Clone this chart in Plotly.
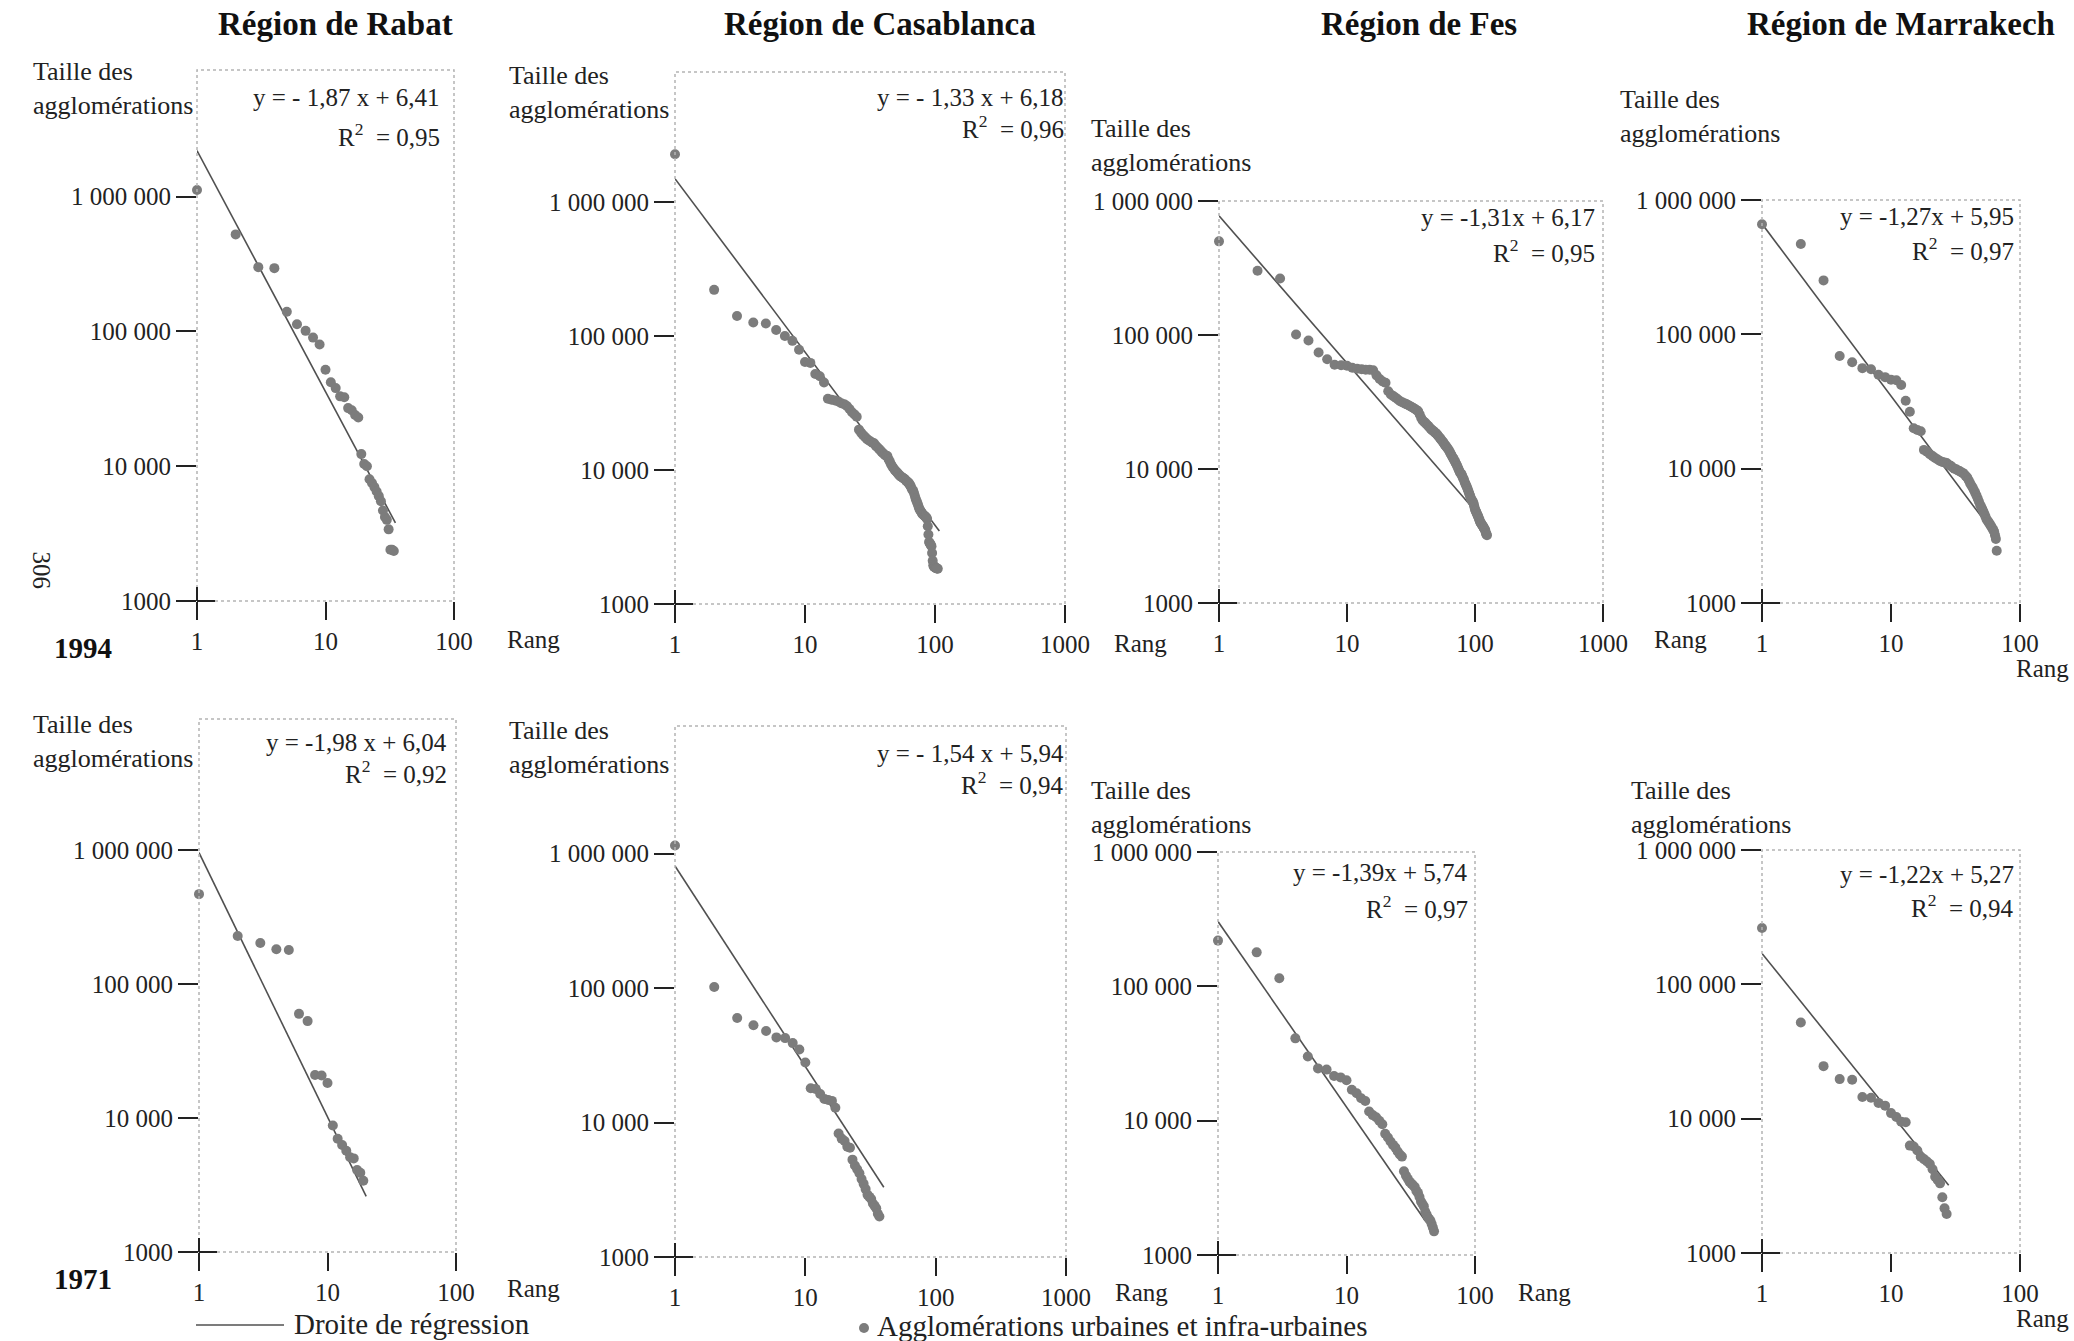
import plotly.graph_objects as go

W, H = 2074, 1341
FONT = "Liberation Serif"
INK = "#222222"

# ---------------- data (population of agglomerations, ordered by rank) ----------------
regions = ["Région de Rabat", "Région de Casablanca", "Région de Fes", "Région de Marrakech"]
years = ["1994", "1971"]

rabat_1994 = [1120000, 525000, 300000, 295000, 140000, 113000, 101000, 90000, 80000, 52000,
              42000, 38000, 33000, 32500, 27000, 26000, 24000, 23000, 12300, 10400,
              10000, 8000, 7500, 7000, 6500, 6000, 5500, 4700, 4200, 4000,
              3400, 2400, 2400, 2350]
casablanca_1994 = [2270000, 221000, 141000, 126000, 124000, 111000, 100000, 92000, 79000, 64000,
                   63000, 52000, 50000, 45000, 34000, 33500, 33000, 32500, 31500, 31000,
                   30000, 28500, 27000, 26000, 25000, 20000, 19000, 18200, 17600, 17000,
                   16600, 16300, 16000, 15800, 15200, 14800, 14400, 14000, 13600, 13300,
                   13000, 12800, 12700, 12000, 11500, 11000, 10600, 10300, 10000, 9800,
                   9600, 9400, 9200, 9000, 8900, 8800, 8700, 8600, 8500, 8300,
                   8200, 8100, 8000, 7800, 7600, 7300, 7100, 7000, 6700, 6400,
                   6100, 5900, 5700, 5500, 5300, 5100, 5000, 4900, 4800, 4700,
                   4650, 4600, 4550, 4500, 4450, 4400, 4300, 3800, 3300, 2900,
                   2850, 2800, 2750, 2700, 2400, 2100, 1950, 1900, 1900, 1880,
                   1860, 1850, 1850, 1840, 1830]
fes_1994 = [500000, 302000, 264000, 101000, 91000, 74000, 66000, 60000, 59500, 59000,
            57000, 56000, 55500, 55000, 55000, 54500, 50000, 47000, 45000, 44000,
            38000, 36000, 35000, 34000, 33000, 32000, 31500, 31000, 30500, 30000,
            29500, 29000, 28500, 28000, 27500, 27000, 25500, 24000, 23000, 22500,
            22000, 21500, 21000, 20500, 20000, 19600, 19300, 19000, 18600, 18300,
            17900, 17500, 17100, 16700, 16300, 16000, 15600, 15200, 14900, 14600,
            14300, 14000, 13600, 13200, 12900, 12500, 12200, 11900, 11600, 11300,
            11000, 10700, 10400, 10100, 9800, 9500, 9300, 9200, 9000, 8700,
            8500, 8300, 8000, 7800, 7600, 7400, 7200, 7000, 6800, 6600,
            6400, 6200, 6000, 5900, 5800, 5700, 5600, 5400, 5200, 5000,
            4900, 4800, 4700, 4600, 4500, 4400, 4300, 4200, 4100, 4000,
            3950, 3900, 3850, 3800, 3750, 3700, 3650, 3600, 3550, 3500,
            3400, 3300, 3250, 3200]
marrakech_1994 = [660000, 471000, 252000, 69000, 62000, 56000, 55000, 50000, 48000, 46000,
                  45500, 42000, 32000, 26500, 20000, 19400, 19000, 13800, 13400, 12800,
                  12400, 12000, 11700, 11400, 11200, 11100, 11000, 10700, 10500, 10200,
                  10000, 9900, 9700, 9600, 9400, 9300, 9100, 8800, 8600, 8200,
                  7800, 7500, 7200, 6900, 6600, 6300, 6000, 5700, 5400, 5200,
                  5000, 4800, 4600, 4400, 4200, 4100, 4000, 3900, 3800, 3700,
                  3600, 3500, 3400, 3200, 3000, 2450]
rabat_1971 = [470000, 229000, 203000, 182000, 180000, 60000, 53000, 21000, 20800, 18300,
              8800, 7000, 6300, 5700, 5100, 5000, 4100, 3900, 3400]
casablanca_1971 = [1150000, 102000, 60000, 53000, 48000, 43000, 42500, 39000, 35000, 28000,
                   18000, 17800, 16300, 15000, 14700, 14500, 12900, 8300, 7600, 7300,
                   6600, 6500, 5300, 4800, 4500, 4200, 3800, 3500, 3200, 2900,
                   2800, 2700, 2500, 2400, 2300, 2100, 2000]
fes_1971 = [219000, 179000, 115000, 41000, 30000, 24500, 24000, 21500, 21000, 20000,
            17000, 16000, 14700, 14000, 11700, 11000, 10600, 10000, 9400, 8000,
            7500, 7000, 6600, 6300, 5900, 5600, 5400, 4200, 3900, 3700,
            3500, 3400, 3300, 3200, 3000, 2900, 2700, 2500, 2400, 2300,
            2100, 2000, 1900, 1850, 1800, 1700, 1600, 1500]
marrakech_1971 = [263000, 52000, 24600, 19700, 19500, 14500, 14300, 13100, 12500, 11000,
                  10300, 9500, 9400, 6300, 6200, 5800, 5200, 5000, 4800, 4600,
                  4200, 3700, 3500, 3300, 2600, 2150, 1950]

# regression lines as drawn: (rank at start, rank at end), (size at start, size at end)
reg_rank = [[1, 35], [1, 108], [1, 93], [1, 54], [1, 20], [1, 40], [1, 41], [1, 28]]
reg_size = [[2200000, 3800], [1490000, 3500], [776000, 5300], [665000, 4000],
            [960000, 2600], [810000, 3300], [304000, 1800], [170000, 3200]]
equations = ["y = - 1,87 x + 6,41", "y = - 1,33 x + 6,18", "y = -1,31x + 6,17", "y = -1,27x + 5,95",
             "y = -1,98 x + 6,04", "y = - 1,54 x + 5,94", "y = -1,39x + 5,74", "y = -1,22x + 5,27"]
r2_values = ["0,95", "0,96", "0,95", "0,97", "0,92", "0,94", "0,97", "0,94"]

series = [rabat_1994, casablanca_1994, fes_1994, marrakech_1994,
          rabat_1971, casablanca_1971, fes_1971, marrakech_1971]

y_tickvals = [1000, 10000, 100000, 1000000]
y_ticktext = ["1000", "10 000", "100 000", "1 000 000"]
x_ticks_2 = [1, 10, 100]
x_ticks_3 = [1, 10, 100, 1000]

# ---------------- layout geometry (pixels) ----------------
geom = [
    dict(box=(197, 454, 70, 601), xdec=2, ytop=6.94),
    dict(box=(675, 1065, 72, 604), xdec=3, ytop=6.97),
    dict(box=(1219, 1603, 201, 603), xdec=3, ytop=6.0),
    dict(box=(1762, 2020, 200, 603), xdec=2, ytop=6.0),
    dict(box=(199, 456, 719, 1252), xdec=2, ytop=6.98),
    dict(box=(675, 1066, 726, 1257), xdec=3, ytop=6.95),
    dict(box=(1218, 1475, 852, 1255), xdec=2, ytop=6.0),
    dict(box=(1762, 2020, 850, 1253), xdec=2, ytop=6.0),
]
ylab_pos = [(31, 55), (507, 59), (1089, 112), (1618, 83),
            (31, 708), (507, 714), (1089, 774), (1629, 774)]
eq_pos = [(442, 97, 135), (1066, 97, 127), (1597, 218, 251), (2016, 216, 249),
          (449, 742, 772), (1066, 753, 783), (1470, 873, 907), (2016, 874, 906)]
rang_pos = [(505, 640), (1112, 643), (1652, 640), (2042, 668),
            (505, 1288), (1113, 1292), (1516, 1292), (2042, 1318)]
title_pos = [335, 880, 1419, 1901]


def px(x):
    return x / W


def py(y):
    return 1 - y / H


fig = go.Figure()
shapes = []
annotations = []

for i, (vals, g) in enumerate(zip(series, geom)):
    n = i + 1
    xa = "x" if n == 1 else f"x{n}"
    ya = "y" if n == 1 else f"y{n}"
    ranks = list(range(1, len(vals) + 1))
    fig.add_trace(go.Scatter(
        x=reg_rank[i], y=reg_size[i], mode="lines", xaxis=xa, yaxis=ya,
        line=dict(color="#505050", width=1.6), showlegend=False, hoverinfo="skip"))
    fig.add_trace(go.Scatter(
        x=ranks, y=vals, mode="markers", xaxis=xa, yaxis=ya, cliponaxis=False,
        marker=dict(color="#7c7c7c", size=10, line=dict(width=0)), showlegend=False))

    l, r, t, b = g["box"]
    xt = x_ticks_3 if g["xdec"] == 3 else x_ticks_2
    axis_font = dict(family=FONT, size=25, color=INK)
    fig.layout[f"xaxis{'' if n == 1 else n}"] = dict(
        type="log", range=[0, g["xdec"]], domain=[px(l), px(r)], anchor=ya,
        tickvals=xt, ticktext=[str(v) for v in xt], ticks="outside", ticklen=18,
        tickwidth=2, tickcolor=INK, showgrid=False, zeroline=False, showline=False,
        tickfont=axis_font, fixedrange=True, automargin=False)
    fig.layout[f"yaxis{'' if n == 1 else n}"] = dict(
        type="log", range=[3, g["ytop"]], domain=[py(b), py(t)], anchor=xa,
        tickvals=y_tickvals, ticktext=y_ticktext, ticks="outside", ticklen=20,
        tickwidth=2, tickcolor=INK, showgrid=False, zeroline=False, showline=False,
        tickfont=axis_font, fixedrange=True, automargin=False)

    shapes.append(dict(type="rect", xref=f"{xa} domain", yref=f"{ya} domain",
                       x0=0, x1=1, y0=0, y1=1,
                       line=dict(color="#b4b4b4", width=1.5, dash="dot")))
    shapes.append(dict(type="line", xref=f"{xa} domain", yref=f"{ya} domain",
                       xsizemode="pixel", xanchor=0, x0=0, x1=18, y0=0, y1=0,
                       line=dict(color=INK, width=2)))
    shapes.append(dict(type="line", xref=f"{xa} domain", yref=f"{ya} domain",
                       ysizemode="pixel", yanchor=0, y0=0, y1=14, x0=0, x1=0,
                       line=dict(color=INK, width=2)))

    lx, ly = ylab_pos[i]
    annotations.append(dict(text="Taille des<br>agglomérations", x=px(lx), y=py(ly),
                            xref="paper", yref="paper", xanchor="left", yanchor="top",
                            align="left", showarrow=False,
                            font=dict(family=FONT, size=26, color=INK)))
    rx, ry = rang_pos[i]
    annotations.append(dict(text="Rang", x=px(rx), y=py(ry), xref="paper", yref="paper",
                            xanchor="center" if i in (3, 7) else "left", yanchor="middle",
                            showarrow=False, font=dict(family=FONT, size=25, color=INK)))
    ex, ey1, ey2 = eq_pos[i]
    annotations.append(dict(text=equations[i], x=px(ex), y=py(ey1), xref="paper", yref="paper",
                            xanchor="right", yanchor="middle", showarrow=False,
                            font=dict(family=FONT, size=25, color=INK)))
    annotations.append(dict(text="R<sup>2</sup>\u00a0\u00a0= " + r2_values[i], x=px(ex), y=py(ey2),
                            xref="paper", yref="paper", xanchor="right", yanchor="middle",
                            showarrow=False, font=dict(family=FONT, size=25, color=INK)))

for name, cx in zip(regions, title_pos):
    annotations.append(dict(text=f"<b>{name}</b>", x=px(cx), y=py(24), xref="paper", yref="paper",
                            xanchor="center", yanchor="middle", showarrow=False,
                            font=dict(family=FONT, size=33, color="#111111")))
for yr, yy in zip(years, [648, 1279]):
    annotations.append(dict(text=f"<b>{yr}</b>", x=px(83), y=py(yy), xref="paper", yref="paper",
                            xanchor="center", yanchor="middle", showarrow=False,
                            font=dict(family=FONT, size=29, color="#111111")))
annotations.append(dict(text="306", x=px(26), y=py(570), xref="paper", yref="paper",
                        textangle=90, showarrow=False,
                        font=dict(family=FONT, size=25, color=INK)))
shapes.append(dict(type="line", xref="paper", yref="paper", x0=px(196), x1=px(284),
                   y0=py(1325), y1=py(1325), line=dict(color="#505050", width=1.6)))
annotations.append(dict(text="Droite de régression", x=px(292), y=py(1324), xref="paper",
                        yref="paper", xanchor="left", yanchor="middle", showarrow=False,
                        font=dict(family=FONT, size=29, color=INK)))
shapes.append(dict(type="circle", xref="paper", yref="paper", x0=px(859), x1=px(869),
                   y0=py(1333), y1=py(1323), fillcolor="#7c7c7c", line=dict(width=0)))
annotations.append(dict(text="Agglomérations urbaines et infra-urbaines", x=px(875), y=py(1326),
                        xref="paper", yref="paper", xanchor="left", yanchor="middle",
                        showarrow=False, font=dict(family=FONT, size=29, color=INK)))

fig.update_layout(width=W, height=H, margin=dict(l=0, r=0, t=0, b=0),
                  paper_bgcolor="white", plot_bgcolor="white",
                  shapes=shapes, annotations=annotations, showlegend=False,
                  font=dict(family=FONT, color=INK))

fig.write_html("out.html", config={"displayModeBar": False},
               post_script="document.body.style.margin='0';document.body.style.overflow='hidden';")
